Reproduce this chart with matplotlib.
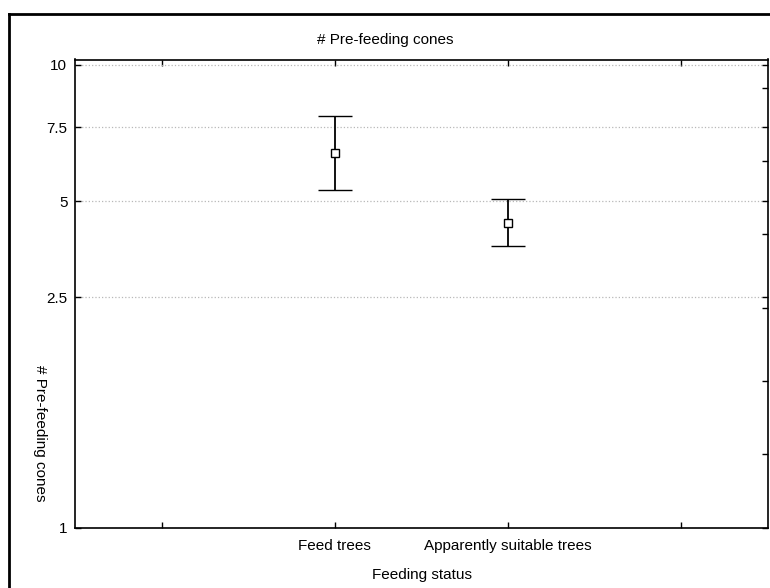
import numpy as np
import matplotlib.pyplot as plt
from matplotlib.lines import Line2D

plt.rcParams['font.family'] = ['Liberation Sans', 'DejaVu Sans']

# Feeding status groups (outer slots are empty padding categories)
groups = ['', 'Feed trees', 'Apparently suitable trees', '']
means = [6.61, 4.43]
upper = [7.96, 5.07]
lower = [5.37, 3.83]
ytick_vals = [1, 2.5, 5, 7.5, 10]
ytick_labels = ['1', '2.5', '5', '7.5', '10']

# stretched y axis: knots of value -> axis position
knot_val = [0, 1, 2.5, 5, 7.5, 10, 15]
knot_pos = [-150, 0, 230, 326, 400, 462, 586]


def forward(v):
    return np.interp(v, knot_val, knot_pos)


def inverse(p):
    return np.interp(p, knot_pos, knot_val)


W, H = 770, 588
fig = plt.figure(figsize=(W / 100, H / 100), dpi=100)
ax = fig.add_axes([75 / W, 1 - 527.5 / H, (768 - 75) / W, (527.5 - 59.5) / H])
ax.set_yscale('function', functions=(forward, inverse))

xpos = [1, 2]
yerr = [np.subtract(means, lower), np.subtract(upper, means)]
ax.errorbar(xpos, means, yerr=yerr, fmt='s', color='black', ecolor='black',
            mfc='white', mec='black', ms=5.4, mew=1.0,
            capsize=12.2, capthick=1.3, elinewidth=1.3, zorder=3)

ax.set_xlim(-0.5, 3.5)
ax.set_ylim(1, 10.22)
ax.set_xticks(range(len(groups)))
ax.set_xticklabels(groups)
ax.set_yticks(ytick_vals)
ax.set_yticklabels(ytick_labels)

# minor ticks on the right side only
minor_pos = np.arange(1, 7) * 73.2
ax.set_yticks(inverse(minor_pos), minor=True)
ax.tick_params(which='minor', left=False, right=True, direction='in', length=4, width=1)

ax.tick_params(which='major', direction='in', top=True, right=True, length=4, width=1,
               labelsize=11, colors='black')
ax.tick_params(axis='y', which='major', pad=5.5)
ax.tick_params(axis='x', which='major', pad=8)

ax.yaxis.grid(True, color='#b8b8b8', linestyle=':', linewidth=0.9)
ax.xaxis.grid(False)
ax.set_axisbelow(True)
for s in ax.spines.values():
    s.set_linewidth(1.2)
    s.set_color('black')

fig.text(385 / W, 1 - 40 / H, '# Pre-feeding cones', ha='center', va='center', fontsize=11)
fig.text(422 / W, 1 - 575 / H, 'Feeding status', ha='center', va='center', fontsize=11)
fig.text(40 / W, 1 - 433 / H, '# Pre-feeding cones', ha='center', va='center',
         rotation=270, fontsize=11)

# outer frame
fig.add_artist(Line2D([9 / W, 9 / W], [0, 1 - 14 / H], transform=fig.transFigure,
                      color='black', lw=2))
fig.add_artist(Line2D([9 / W, 1], [1 - 14 / H, 1 - 14 / H], transform=fig.transFigure,
                      color='black', lw=2))

fig.savefig('out.png', dpi=100)
